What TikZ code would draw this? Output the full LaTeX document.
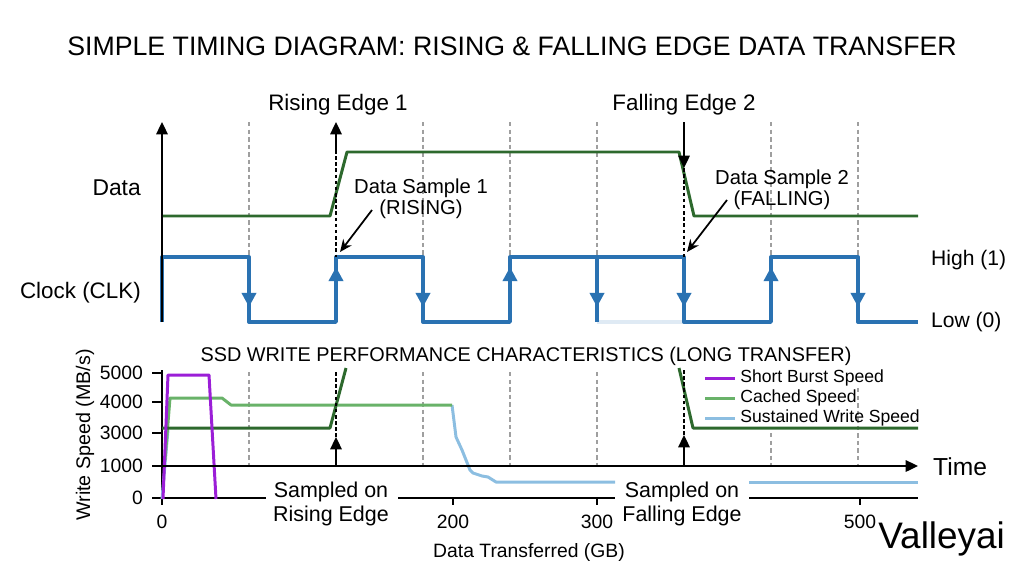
\documentclass[tikz,border=0pt]{standalone}
\usepackage{fontspec}
\setmainfont{Liberation Sans}
\usetikzlibrary{arrows.meta}

\definecolor{datagreen}{RGB}{45,105,45}
\definecolor{clkblue}{RGB}{42,114,178}
\definecolor{burstpurple}{RGB}{155,30,215}
\definecolor{cachegreen}{RGB}{105,178,105}
\definecolor{sustblue}{RGB}{140,190,225}

\begin{document}
\begin{tikzpicture}[x=0.02cm,y=-0.02cm,
  datasig/.style={line width=1.7pt,datagreen,line join=round},
  clksig/.style={line width=1.9pt,clkblue,line join=round},
  clkedge/.style={clksig,-{Triangle[length=8pt,width=8pt]}},
  axisline/.style={line width=1.1pt,black},
  axisarrow/.style={axisline,-{Triangle[length=7pt,width=6.5pt]}},
  gridline/.style={gray!75,line width=0.6pt,dash pattern=on 2.5pt off 1.8pt},
  edgeline/.style={black,line width=0.8pt,dash pattern=on 2pt off 1.5pt},
  pointer/.style={line width=1pt,-{Stealth[length=7pt,width=6pt]}},
  speed/.style={line width=1.7pt,line join=round},
  lbl/.style={font=\fontsize{12.75}{15}\selectfont},
  note/.style={font=\fontsize{11.5}{12.5}\selectfont},
  tick/.style={font=\fontsize{11}{13}\selectfont}]
\useasboundingbox (0,0) rectangle (1024,572);
%\draw[help lines] (0,0) grid[step=50] (1024,572);

\node[anchor=base] (title) at (512,55) {\fontsize{15.2}{18}\selectfont SIMPLE TIMING DIAGRAM: RISING \& FALLING EDGE DATA TRANSFER};

% timing part
\foreach \x in {249,423,510,597,771,858}
  \draw[gridline] (\x,122) -- (\x,257);

\draw[datasig] (162,216) -- (330,216) -- (347,152) -- (679,152) -- (694,216) -- (918,216);

\draw[clksig,clkblue!15] (597,322) -- (684,322);
\draw[clksig] (162,322) -- (162,257) -- (249,257) -- (249,322) -- (336,322) -- (336,257) -- (423,257) -- (423,322)
  -- (510,322) -- (510,257) -- (684,257) -- (684,322) -- (771,322) -- (771,257) -- (858,257) -- (858,322) -- (918,322);
\draw[clksig] (597,257) -- (597,322);
\foreach \x in {249,423,597,684,858}
  \draw[clkedge] (\x,257) -- (\x,307);
\foreach \x in {336,510,771}
  \draw[clkedge] (\x,322) -- (\x,267);

\draw[axisarrow] (162,322) -- (162,122);

\coordinate (re1top) at (336,122);
\coordinate (re1foot) at (336,150);
\coordinate (fe2top) at (684,122);
\coordinate (fe2foot) at (684,168);
\draw[axisarrow] (re1foot) -- (re1top);
\draw[edgeline] (re1foot) -- (336,257);
\draw[axisarrow] (fe2top) -- (fe2foot);
\draw[edgeline] (fe2foot) -- (684,257);

\node[lbl,anchor=base] (re1) at (338,110) {Rising Edge 1};
\node[lbl,anchor=base] (fe2) at (684,110) {Falling Edge 2};
\node[lbl,anchor=base east,font=\fontsize{13}{15}\selectfont] (datalbl) at (147,195) {Data};
\node[lbl,anchor=base east] (clklbl) at (147,298) {Clock (CLK)};
\node[lbl,anchor=base west,font=\fontsize{12}{15}\selectfont] (high) at (925,265) {High (1)};
\node[lbl,anchor=base west,font=\fontsize{12}{15}\selectfont] (low) at (925,327) {Low (0)};

\node[note,anchor=base] (ds1) at (421,193) {\begin{tabular}[t]{@{}c@{}}Data Sample 1\\ (RISING)\end{tabular}};
\node[note,anchor=base] (ds2) at (782,184) {\begin{tabular}[t]{@{}c@{}}Data Sample 2\\ (FALLING)\end{tabular}};
\coordinate (ds1from) at (372,210);
\coordinate (ds1to) at (340,252);
\coordinate (ds2from) at (727,200);
\coordinate (ds2to) at (687,252);
\draw[pointer] (ds1from) -- (ds1to);
\draw[pointer] (ds2from) -- (ds2to);

% write speed part
\node[anchor=base,font=\fontsize{11.3}{13}\selectfont] (subtitle) at (526,361) {SSD WRITE PERFORMANCE CHARACTERISTICS (LONG TRANSFER)};

\foreach \x in {249,423,510,597}
  \draw[gridline] (\x,372) -- (\x,466);
\draw[gridline] (771,433) -- (771,466);
\draw[gridline] (858,388) -- (858,466);

\draw[axisline] (162,370) -- (162,499);
\foreach \y/\v in {373/5000,402/4000,433/3000,466/1000,498/0} {
  \draw[axisline] (152,\y) -- (162,\y);
  \node[tick,anchor=east] (yt\v) at (149,\y) {\v};
}
\draw[axisline] (162,498) -- (266,498);
\draw[axisline] (398,498) -- (615,498);
\draw[axisline] (749,498) -- (918,498);
\foreach \x/\v in {162/0,453/200,597/300,860/500} {
  \draw[axisline] (\x,498) -- (\x,505);
  \node[tick,anchor=base] (xt\v) at (\x,528) {\v};
}

\draw[speed,sustblue] (162,499) -- (168,430);
\draw[speed,sustblue] (452,405) -- (456,437) -- (462,450) -- (470,470) -- (473,473) -- (482,476) -- (488,477) -- (496,482) -- (615,482);
\draw[speed,sustblue] (749,482) -- (918,482);
\draw[speed,cachegreen] (165,460) -- (170,398) -- (222,398) -- (231,405) -- (452,405);
\draw[datasig] (162,428) -- (330,428) -- (346,368);
\draw[datasig] (679,368) -- (693,428) -- (918,428);
\draw[speed,burstpurple] (163,499) -- (168,375) -- (209,375) -- (216,499);

\draw[axisarrow] (162,466) -- (918,466);
\node[anchor=base west,font=\fontsize{14}{16}\selectfont] (time) at (927,475) {Time};

\coordinate (rsfoot) at (336,466);
\coordinate (rstip) at (336,437);
\coordinate (fsfoot) at (684,466);
\coordinate (fstip) at (684,435);
\draw[axisarrow] (rsfoot) -- (rstip);
\draw[edgeline] (rstip) -- (336,372);
\draw[axisarrow] (fsfoot) -- (fstip);
\draw[edgeline] (fstip) -- (684,368);

\node[anchor=base,font=\fontsize{12.2}{14.2}\selectfont] (srise) at (331,497) {\begin{tabular}[t]{@{}c@{}}Sampled on\\ Rising Edge\end{tabular}};
\node[anchor=base,font=\fontsize{12.2}{14.2}\selectfont] (sfall) at (682,497) {\begin{tabular}[t]{@{}c@{}}Sampled on\\ Falling Edge\end{tabular}};

% legend
\foreach \y/\c/\t in {378/burstpurple/Short Burst Speed,398/cachegreen/Cached Speed,418/sustblue/Sustained Write Speed} {
  \draw[speed,\c] (705,\y) -- (735,\y);
  \node[anchor=west,inner sep=0pt,font=\fontsize{10}{12}\selectfont] at (740,\y) {\t};
}

\node[anchor=base,font=\fontsize{11}{13}\selectfont] (xlabel) at (529,557) {Data Transferred (GB)};
\node[anchor=base,rotate=90,font=\fontsize{11.2}{13}\selectfont] (ylabel) at (90,435) {Write Speed (MB/s)};
\node[anchor=base west,inner sep=0pt,font=\fontsize{21}{24}\selectfont] (mark) at (878,548) {Valleyai};
\end{tikzpicture}
\end{document}
